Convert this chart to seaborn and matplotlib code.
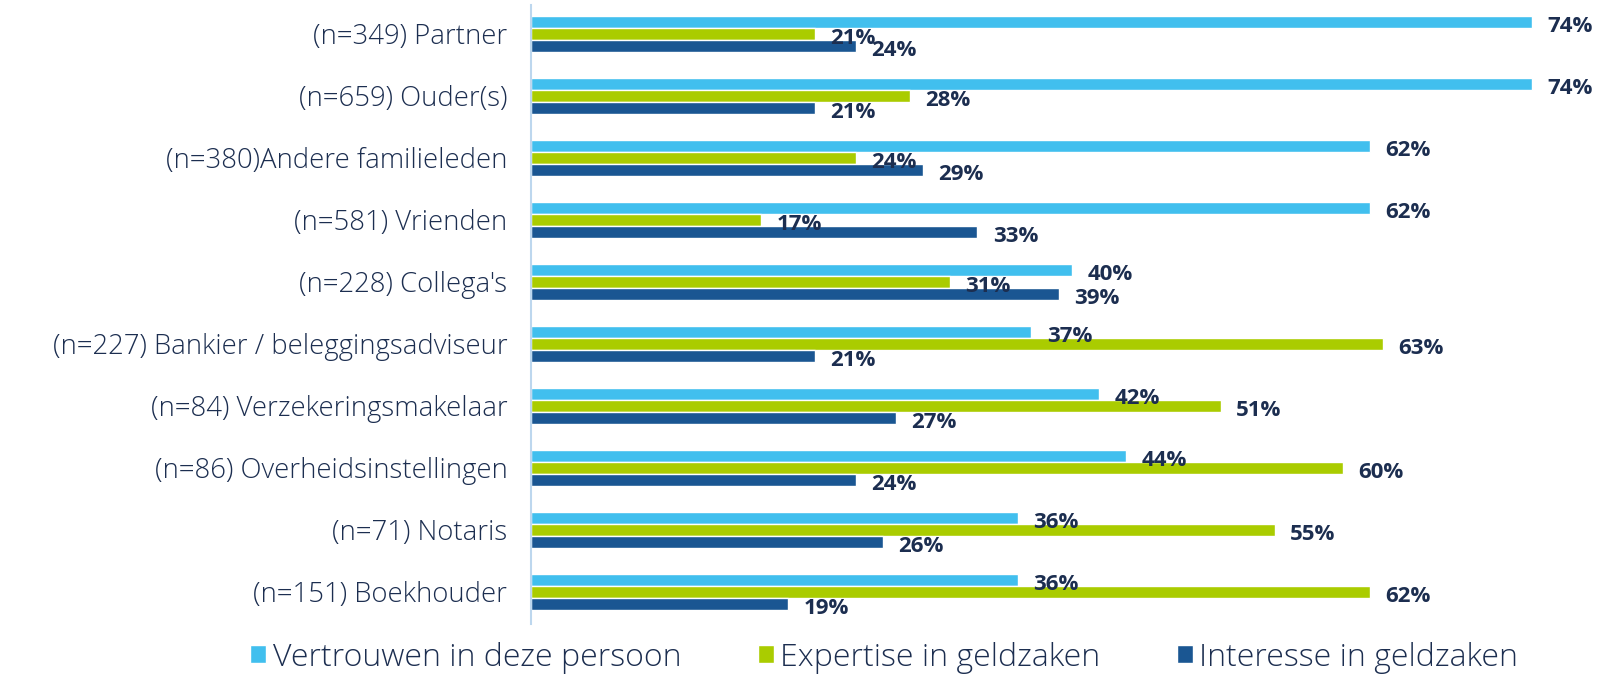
import matplotlib
matplotlib.use("Agg")
import matplotlib.pyplot as plt
import seaborn as sns
import pandas as pd

categories = [
    "(n=349) Partner",
    "(n=659) Ouder(s)",
    "(n=380)Andere familieleden",
    "(n=581) Vrienden",
    "(n=228) Collega's",
    "(n=227) Bankier / beleggingsadviseur",
    "(n=84) Verzekeringsmakelaar",
    "(n=86) Overheidsinstellingen",
    "(n=71) Notaris",
    "(n=151) Boekhouder",
]
series = ["Vertrouwen in deze persoon", "Expertise in geldzaken", "Interesse in geldzaken"]
vertrouwen = [74, 74, 62, 62, 40, 37, 42, 44, 36, 36]
expertise = [21, 28, 24, 17, 31, 63, 51, 60, 55, 62]
interesse = [24, 21, 29, 33, 39, 21, 27, 24, 26, 19]

colors = ["#41bfee", "#aacc00", "#1a5692"]
text_color = "#1c2e50"

rows = []
for s, vals in zip(series, [vertrouwen, expertise, interesse]):
    for c, v in zip(categories, vals):
        rows.append({"cat": c, "series": s, "value": v})
df = pd.DataFrame(rows)

sns.set_theme(style="white")
plt.rcParams["font.family"] = ["Open Sans", "DejaVu Sans"]

fig = plt.figure(figsize=(16.05, 6.82), dpi=100)
ax = fig.add_axes([531 / 1605, 1 - 624 / 682, 1 - 531 / 1605, (624 - 5) / 682])

sns.barplot(data=df, y="cat", x="value", hue="series", order=categories,
            hue_order=series, palette=colors, orient="h", width=0.58,
            gap=0, ax=ax, saturation=1, errorbar=None, legend=True)

for cont in ax.containers:
    anns = ax.bar_label(cont, fmt="{:.0f}%", padding=11, fontsize=16, fontweight="bold",
                        color=text_color)
    for a in anns:
        a.xyann = (a.xyann[0], -3.5)

ax.set_xlim(0, 79.4)
ax.set_ylim(9.52, -0.465)
ax.set_xlabel("")
ax.set_ylabel("")
ax.set_xticks([])
for sp in ["top", "right", "bottom"]:
    ax.spines[sp].set_visible(False)
ax.spines["left"].set_color("#bdd7ee")
ax.spines["left"].set_linewidth(1.5)
ax.tick_params(axis="y", length=0, pad=17, labelsize=19.8, labelcolor=text_color)
for t in ax.get_yticklabels():
    t.set_fontweight(300)

handles, labels = ax.get_legend_handles_labels()
ax.get_legend().remove()
leg = fig.legend(handles, labels, loc="lower center", bbox_to_anchor=(0.551, -0.03), ncol=3,
                 frameon=False, fontsize=23, labelcolor=text_color, handlelength=0.5,
                 handleheight=0.5, handletextpad=0.2, columnspacing=2.4)
for t in leg.get_texts():
    t.set_fontweight(300)

fig.savefig("out.png", dpi=100)
